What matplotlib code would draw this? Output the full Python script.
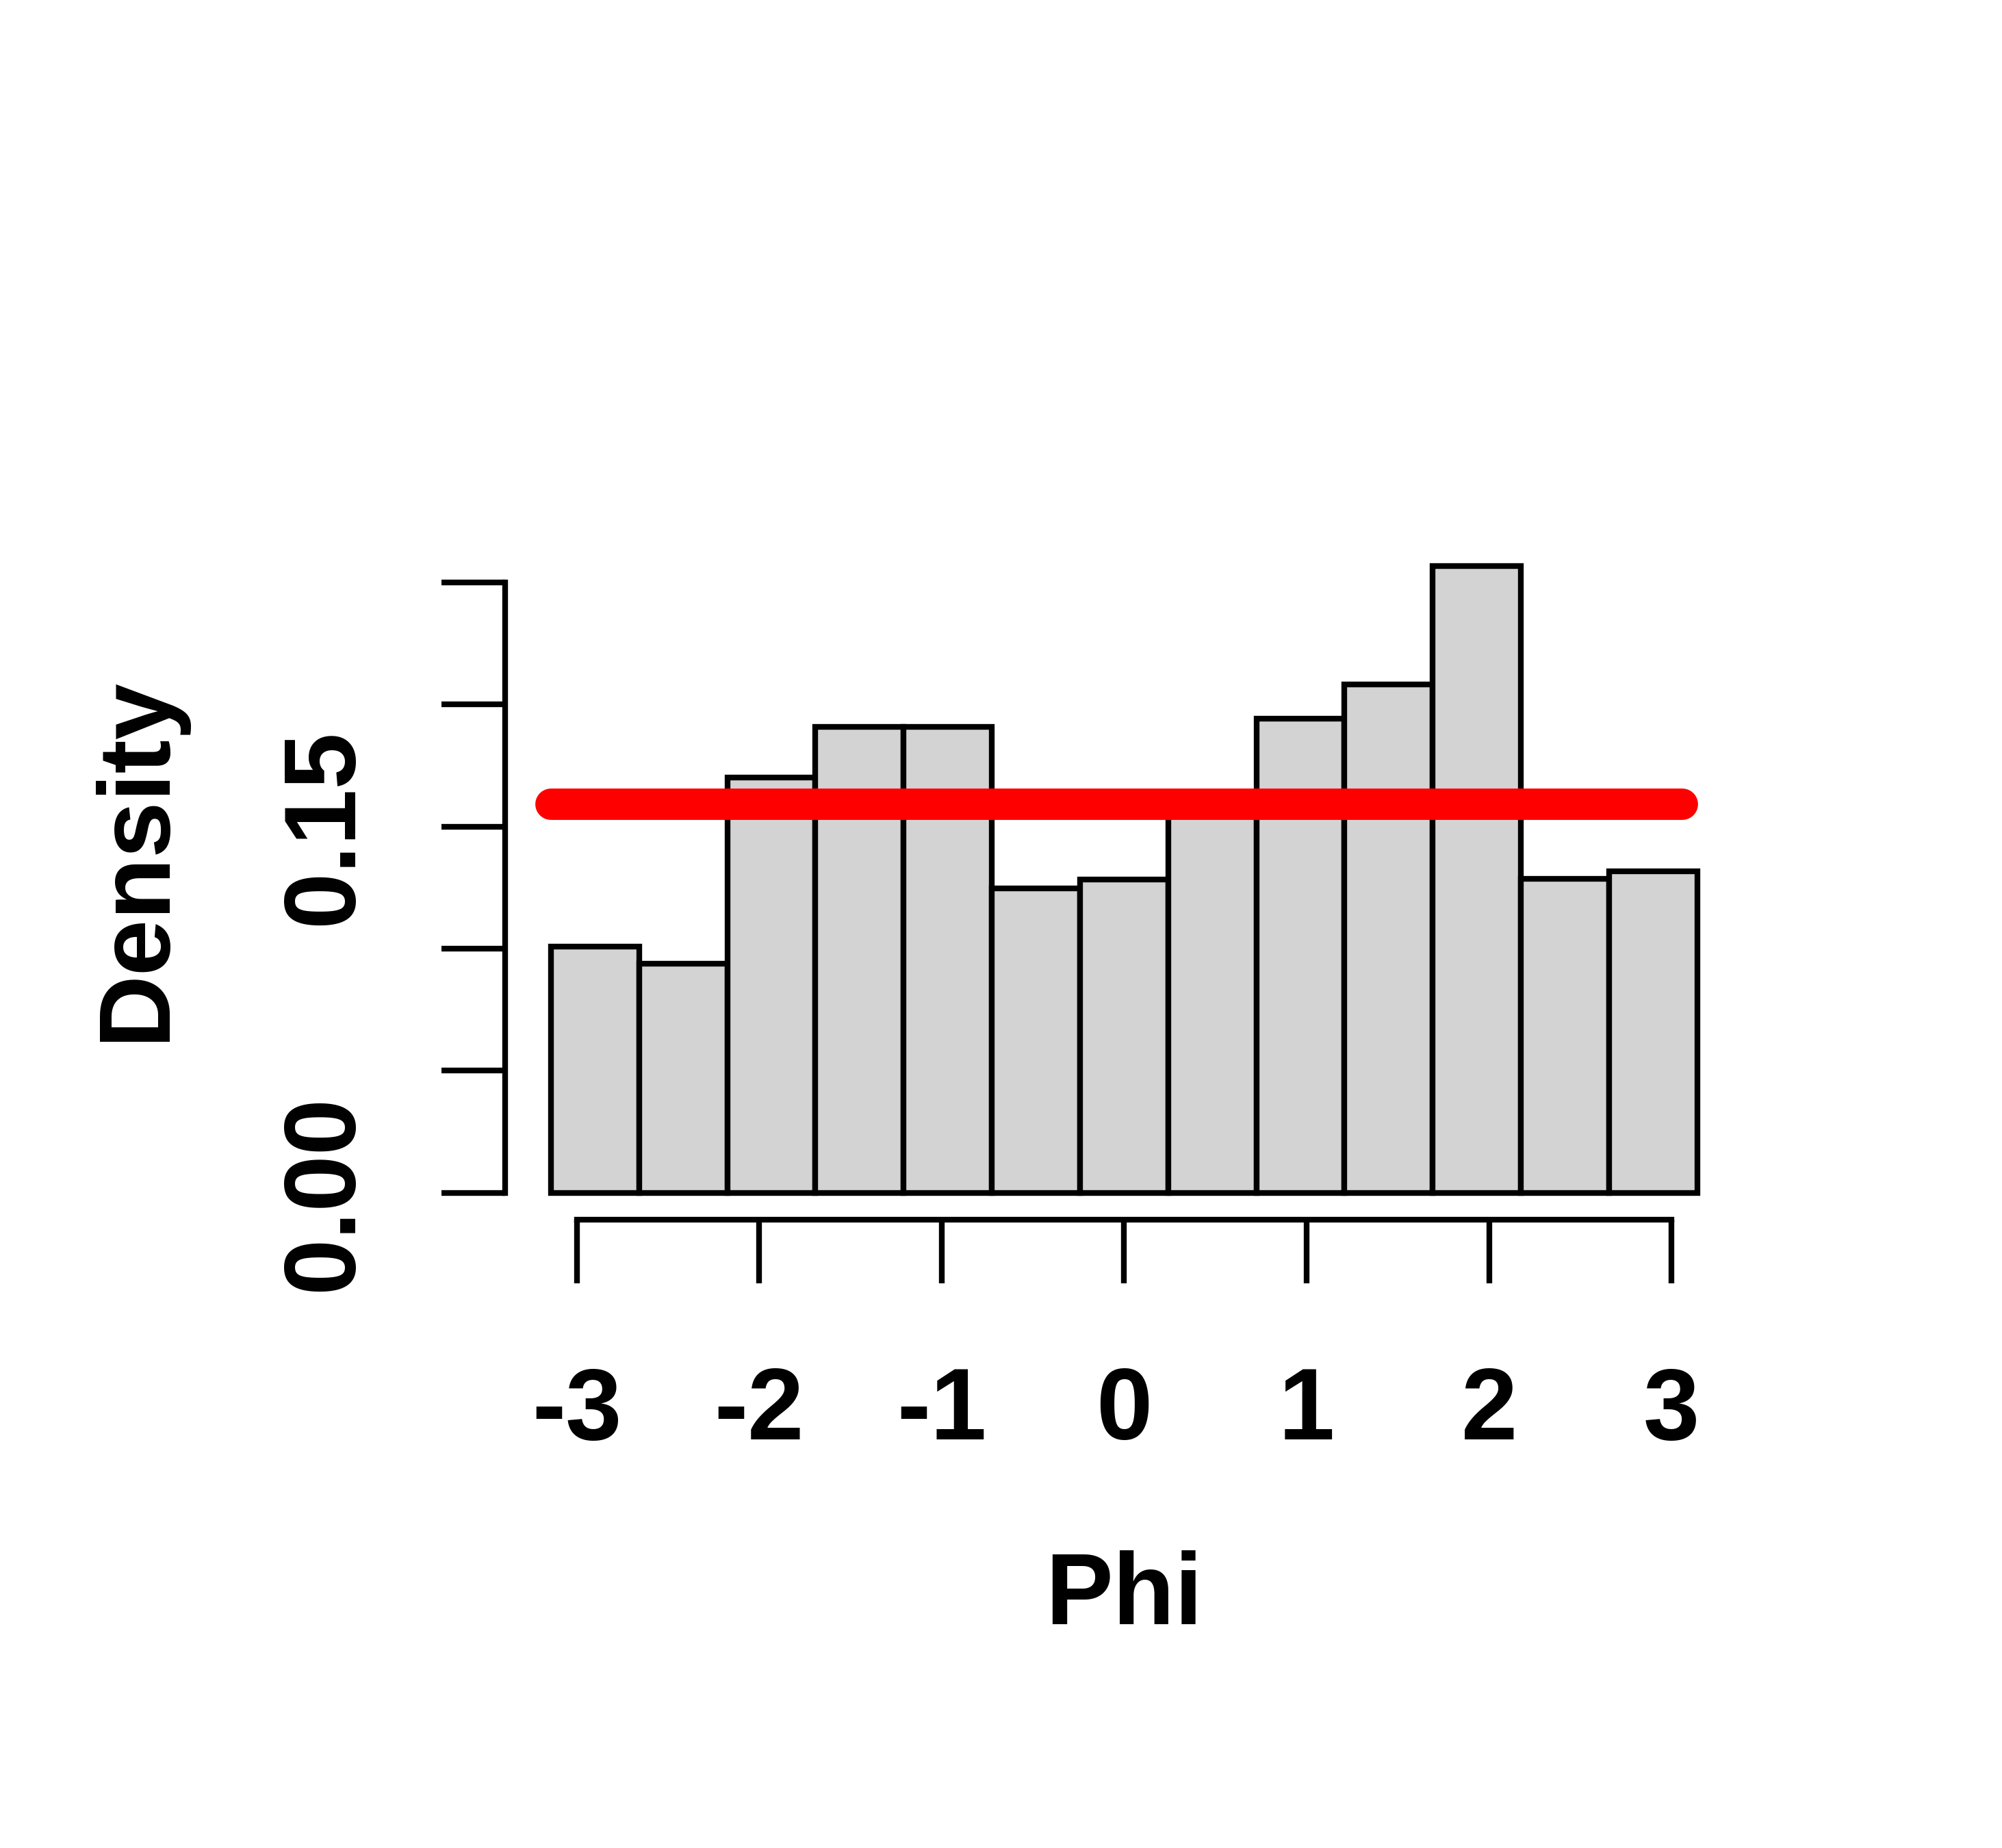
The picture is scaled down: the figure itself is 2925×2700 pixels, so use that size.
import numpy as np
import matplotlib
matplotlib.use('Agg')
import matplotlib.pyplot as plt

plt.rcParams['font.family'] = ['Liberation Sans', 'DejaVu Sans']
plt.rcParams['font.weight'] = 'bold'

# histogram of Phi, 13 bins over [-pi, pi], density scale
n_bins = 13
breaks = np.linspace(-np.pi, np.pi, n_bins + 1)
density = [0.1007, 0.0937, 0.1701, 0.1909, 0.1909, 0.1248, 0.1283,
           0.1585, 0.1942, 0.2082, 0.2568, 0.1285, 0.1317]

# uniform reference density 1/(2*pi), drawn on seq(-pi, pi, by=0.1)
line_phi = [-np.pi, -np.pi + 6.2]
line_dens = [1 / (2 * np.pi), 1 / (2 * np.pi)]

x_ticks = [-3, -2, -1, 0, 1, 2, 3]
y_ticks = [0.00, 0.05, 0.10, 0.15, 0.20, 0.25]
y_labels = ['0.00', '', '', '0.15', '', '']

y_top = 0.2733
lab_size = 35.5
lw = 2.0

fig = plt.figure(figsize=(9.75, 9), dpi=300)
ax = fig.add_axes([0.2523, 0.3401, 0.8707 - 0.2523, 0.7301 - 0.3401])

left = breaks[:-1]
widths = np.diff(breaks)
ax.bar(left, density, width=widths, align='edge', color='lightgray',
       edgecolor='black', linewidth=lw, zorder=2)
ax.plot(line_phi, line_dens, color='red', lw=11, solid_capstyle='round', zorder=3)

span = breaks[-1] - breaks[0]
ax.set_xlim(breaks[0] - 0.04 * span, breaks[-1] + 0.04 * span)
ax.set_ylim(-0.04 * y_top, 1.04 * y_top)

for s in ['top', 'right']:
    ax.spines[s].set_visible(False)
ax.spines['left'].set_bounds(y_ticks[0], y_ticks[-1])
ax.spines['bottom'].set_bounds(x_ticks[0], x_ticks[-1])
ax.spines['left'].set_linewidth(lw)
ax.spines['bottom'].set_linewidth(lw)

ax.set_xticks(x_ticks)
ax.set_xticklabels([str(v) for v in x_ticks])
ax.set_yticks(y_ticks)
ax.set_yticklabels(y_labels, rotation=90, va='center')
ax.tick_params(axis='both', length=22.3, width=lw, labelsize=lab_size)
ax.tick_params(axis='x', pad=29)
ax.tick_params(axis='y', pad=24)

ax.set_xlabel('Phi', fontsize=lab_size, fontweight='bold', va='baseline')
ax.xaxis.set_label_coords(0.5, -0.5615)
ax.set_ylabel('Density', fontsize=lab_size, fontweight='bold', va='baseline')
ax.yaxis.set_label_coords(-0.276, 0.5)

fig.savefig('out.png', dpi=300, facecolor='white')
